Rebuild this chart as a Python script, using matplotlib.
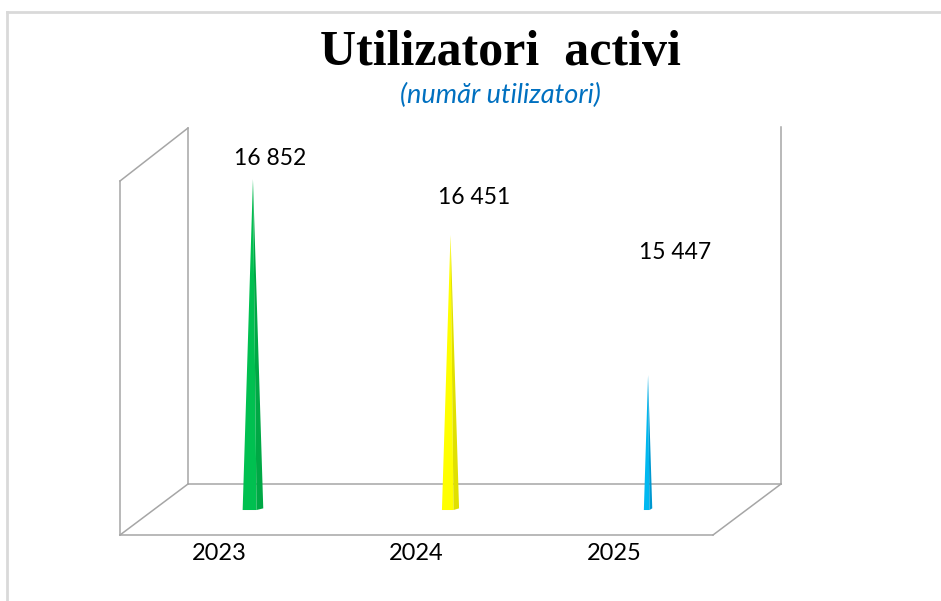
import matplotlib
matplotlib.use("Agg")
import matplotlib.pyplot as plt
from matplotlib.patches import Polygon
from matplotlib.lines import Line2D
import matplotlib.transforms as mtransforms

# ---- data ----
categories = ["2023", "2024", "2025"]
values = [16852, 16451, 15447]
value_labels = ["16 852", "16 451", "15 447"]
colors_light = ["#00c050", "#ffff00", "#00b8f0"]
colors_dark = ["#00a845", "#e0e000", "#0098d0"]
title = "Utilizatori  activi"
subtitle = "(număr utilizatori)"

# ---- layout / style ----
floor_value = 14480          # value at the base of the spikes
y_limits = (14301, 17225)
x_limits = (-0.673, 2.673)
spike_width_factor = 2.2e-5  # half-width (x units) per value unit above floor
label_offsets_px = [(17, 21), (24, 37), (27, 123)]  # data-label offsets from apex
cat_label_dx_px = -34
frame_color = "#a6a6a6"

W, H = 941, 601
fig = plt.figure(figsize=(W / 100, H / 100), dpi=100)
fig.patch.set_facecolor("white")

# outer border (top and left only visible)
fig.add_artist(Line2D([7 / W, 1], [1 - 12 / H, 1 - 12 / H], color="#d9d9d9", lw=2))
fig.add_artist(Line2D([7 / W, 7 / W], [0, 1 - 12 / H], color="#d9d9d9", lw=2))

ax = fig.add_axes([120 / W, 1 - 535 / H, 661 / W, 408 / H])
ax.set_xlim(*x_limits)
ax.set_ylim(*y_limits)
ax.axis("off")

# pseudo-3D frame in axes fraction
def fx(px):
    return (px - 120) / 661

def fy(py):
    return (535 - py) / 408

segs = [
    ((120, 181), (120, 535)),
    ((120, 181), (188, 128)),
    ((188, 128), (188, 484)),
    ((188, 484), (781, 484)),
    ((781, 127), (781, 484)),
    ((120, 535), (188, 484)),
    ((120, 535), (713, 535)),
    ((713, 535), (781, 484)),
]
for (x0, y0), (x1, y1) in segs:
    ax.add_line(Line2D([fx(x0), fx(x1)], [fy(y0), fy(y1)], transform=ax.transAxes,
                       color=frame_color, lw=1.1, clip_on=False, zorder=1))

# spikes (pyramids)
for i, v in enumerate(values):
    hw = spike_width_factor * (v - floor_value)
    split = i + hw * 0.35
    left = Polygon([(i - hw, floor_value), (split, floor_value), (i, v)],
                   closed=True, facecolor=colors_light[i], edgecolor="none", zorder=3)
    right = Polygon([(split, floor_value), (i + hw, floor_value + 12), (i, v)],
                    closed=True, facecolor=colors_dark[i], edgecolor="none", zorder=3)
    ax.add_patch(left)
    ax.add_patch(right)
    dx, dy = label_offsets_px[i]
    ax.annotate(value_labels[i], xy=(i, v), xytext=(dx, dy), textcoords="offset pixels",
                ha="center", va="center", fontsize=16.5, family="Lato", color="black")

# category labels
offset = mtransforms.ScaledTranslation(cat_label_dx_px / 100, 0, fig.dpi_scale_trans)
for i, c in enumerate(categories):
    ax.text(i, fy(554), c, transform=mtransforms.blended_transform_factory(ax.transData, ax.transAxes) + offset,
            ha="center", va="center", fontsize=17, family="Lato", color="black", clip_on=False)

# titles
fig.text(500 / W, 1 - 53 / H, title, ha="center", va="center", fontsize=36,
         fontweight="bold", family="Liberation Serif", color="black")
fig.text(500 / W, 1 - 95 / H, subtitle, ha="center", va="center", fontsize=19.5,
         fontstyle="italic", family="Lato", color="#0070c0")

fig.savefig("out.png", dpi=100, facecolor="white")
